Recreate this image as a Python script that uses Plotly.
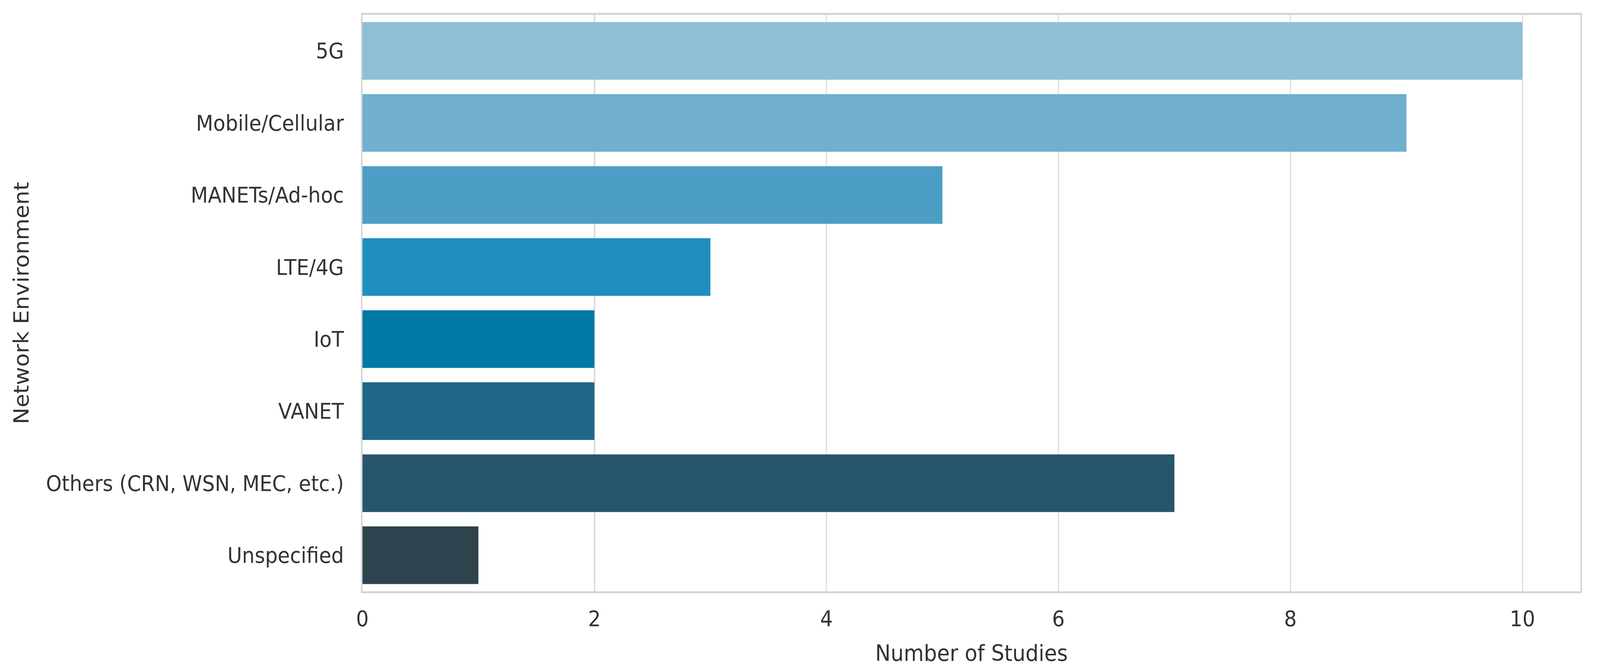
import plotly.graph_objects as go

categories = ["5G", "Mobile/Cellular", "MANETs/Ad-hoc", "LTE/4G", "IoT", "VANET",
              "Others (CRN, WSN, MEC, etc.)", "Unspecified"]
counts = [10, 9, 5, 3, 2, 2, 7, 1]
colors = ["#8ebfd6", "#70afcd", "#4c9ec4", "#1f8fbf", "#0078a4", "#1f6787", "#27566b", "#2f434e"]
x_ticks = [0, 2, 4, 6, 8, 10]
x_title = "Number of Studies"
y_title = "Network Environment"

W, H = 4415, 1717
ML, MR, MT, MB = 1000, 54, 38, 204
font_family = "DejaVu Sans"
text_color = "#333333"
grid_color = "#dcdcdc"
spine_color = "#d4d4d4"

fig = go.Figure()
fig.add_trace(go.Bar(
    x=counts, y=categories, orientation="h",
    marker=dict(color=colors, line=dict(width=0)),
    width=0.8, showlegend=False,
))

fig.update_layout(
    width=W, height=H,
    margin=dict(l=ML, r=MR, t=MT, b=MB),
    paper_bgcolor="white", plot_bgcolor="white",
    font=dict(family=font_family, color=text_color, size=55),
    annotations=[
        dict(text=x_title, x=0.5, y=0, xref="paper", yref="paper",
             xanchor="center", yanchor="middle", yshift=-158, showarrow=False,
             font=dict(size=57, color=text_color)),
        dict(text=y_title, x=0, y=0.5, xref="paper", yref="paper", textangle=-90,
             xanchor="center", yanchor="middle", xshift=58 - ML, showarrow=False,
             font=dict(size=57, color=text_color)),
    ],
)
fig.update_xaxes(
    range=[0, 10.5], tickvals=x_ticks, ticktext=[str(v) for v in x_ticks],
    showgrid=True, gridcolor=grid_color, gridwidth=4,
    zeroline=False, showline=True, linecolor=spine_color, linewidth=5, mirror=True,
    ticks="outside", ticklen=18, tickcolor="rgba(0,0,0,0)",
    tickfont=dict(size=55, color=text_color),
    automargin=False,
)
fig.update_yaxes(
    categoryorder="array", categoryarray=categories,
    range=[7.5, -0.5], autorange=False,
    showgrid=False, zeroline=False, showline=True, linecolor=spine_color, linewidth=4, mirror=True,
    ticks="outside", ticklen=36, tickcolor="rgba(0,0,0,0)",
    tickfont=dict(size=55, color=text_color),
    automargin=False,
)

# The capture window may be narrower than the requested 4415 px; fit the whole
# figure into the actual viewport so nothing is cut off.
post = """
var gd = document.getElementById('{plot_id}');
document.documentElement.style.overflow = 'hidden';
document.body.style.margin = '0';
document.body.style.overflow = 'hidden';
var sx = window.innerWidth / %d, sy = window.innerHeight / %d;
if (sx < 1 || sy < 1) {
  gd.style.transformOrigin = '0 0';
  gd.style.transform = 'scale(' + Math.min(sx, 1) + ',' + Math.min(sy, 1) + ')';
}
""" % (W, H)
fig.write_html("out.html", post_script=post, config={"displayModeBar": False})
